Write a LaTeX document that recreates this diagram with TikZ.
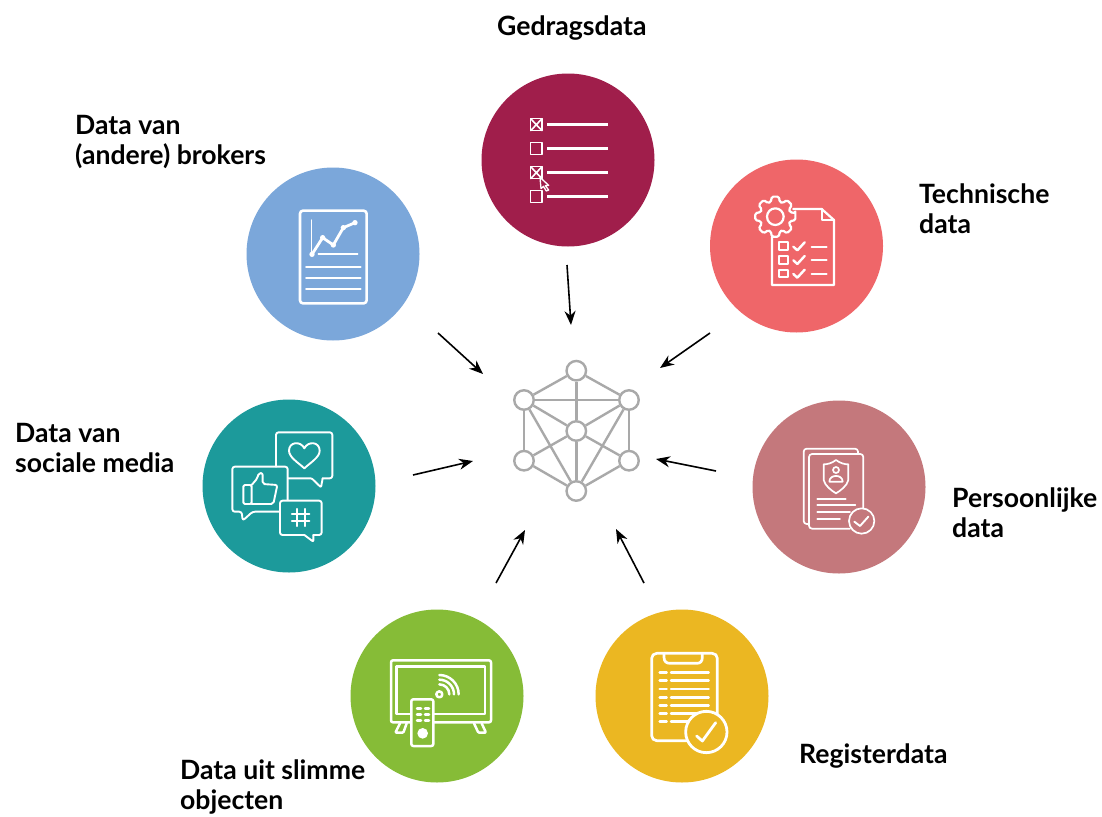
\documentclass[tikz,border=0pt]{standalone}
\usepackage{fontspec}
\setmainfont{Lato}
\definecolor{cgedrag}{HTML}{A01E4B}
\definecolor{ctech}{HTML}{EF6669}
\definecolor{cpers}{HTML}{C4787C}
\definecolor{creg}{HTML}{EBB722}
\definecolor{cslim}{HTML}{86BC37}
\definecolor{csoc}{HTML}{1C9A9B}
\definecolor{cbrok}{HTML}{7BA7DA}
\definecolor{chub}{HTML}{A9A9A9}
\usetikzlibrary{arrows.meta}
\tikzset{
  bigdisc/.style={circle,minimum size=173pt,inner sep=0pt,fill=#1},
  hubdot/.style={circle,minimum size=19.5pt,inner sep=0pt,draw=chub,line width=2.4pt,fill=white},
  hubline/.style={draw=chub,line width=2.4pt},
  flow/.style={-{Stealth[length=14pt,width=11pt]},line width=1.6pt,black},
  lab/.style={font=\fontsize{26.6}{30}\selectfont\bfseries,align=left,anchor=north west,inner sep=0pt,text=black},
  icon/.style={x=0.33333pt,y=-0.33333pt,white,line width=2.2pt,line join=round,line cap=round},
}
\begin{document}
\begin{tikzpicture}[x=1pt,y=-1pt]
\useasboundingbox (0,0) rectangle (1102,816);
\fill[white] (0,0) rectangle (1102,816);
% discs
\node[bigdisc=cgedrag] (gedrag) at (568,160) {};
\node[bigdisc=ctech] (tech) at (796.5,246) {};
\node[bigdisc=cpers] (pers) at (839,487) {};
\node[bigdisc=creg] (reg) at (682,696) {};
\node[bigdisc=cslim] (slim) at (437,696) {};
\node[bigdisc=csoc] (soc) at (289,486) {};
\node[bigdisc=cbrok] (brok) at (333,254) {};
% hub
\node[hubdot] (ht) at (576.3,370.7) {};
\node[hubdot] (hul) at (524,400) {};
\node[hubdot] (hur) at (629,400) {};
\node[hubdot] (hc) at (576.3,431) {};
\node[hubdot] (hll) at (524,460.7) {};
\node[hubdot] (hlr) at (629,460.7) {};
\node[hubdot] (hb) at (576.3,491) {};
\foreach \p/\q in {ht/hul,ht/hur,ht/hc,hul/hur,hul/hc,hur/hc,hul/hll,hur/hlr,hll/hc,hlr/hc,hll/hb,hlr/hb,hul/hb,hur/hb,hc/hb}
  \draw[hubline] (\p) -- (\q);
% arrows
\coordinate (a1s) at (567,265); \coordinate (a1e) at (571,325);
\coordinate (a2s) at (710,333); \coordinate (a2e) at (660,368);
\coordinate (a3s) at (716,471); \coordinate (a3e) at (656,459);
\coordinate (a4s) at (644,583); \coordinate (a4e) at (616,529);
\coordinate (a5s) at (496,583); \coordinate (a5e) at (525,530);
\coordinate (a6s) at (413,475); \coordinate (a6e) at (473,461);
\coordinate (a7s) at (438,333); \coordinate (a7e) at (483,374);
\foreach \i in {1,...,7} \draw[flow] (a\i s) -- (a\i e);
% labels
\node[lab] (l1) at (497,16) {Gedragsdata};
\node[lab] (l2) at (75,115) {Data van\\(andere) brokers};
\node[lab] (l3) at (919,184) {Technische\\data};
\node[lab] (l4) at (952,488) {Persoonlijke\\data};
\node[lab] (l5) at (799,744) {Registerdata};
\node[lab] (l6) at (180,760) {Data uit slimme\\objecten};
\node[lab] (l7) at (15,423) {Data van\\sociale media};
% icon Gedragsdata
\begin{scope}[shift={(480,70)},icon]
  \foreach \y in {146,218,290,362} \draw[line width=1.6pt,line cap=butt] (152,\y) rectangle (186,\y+36);
  \foreach \y in {146,290} \draw[line width=1.6pt] (152,\y) -- (186,\y+36) (186,\y) -- (152,\y+36);
  \foreach \y in {163,236,308,380} \draw[line width=3.5pt,line cap=butt] (202,\y) -- (384,\y);
  \draw[line width=1.3pt,fill=cgedrag] (180,322) -- (206,346) -- (196,347) -- (206,360) -- (199,363) -- (190,349) -- (183,356) -- cycle;
\end{scope}
% icon Technische
\begin{scope}[shift={(710,160)},icon]
  \draw (250,147) -- (335,147) -- (372,180) -- (372,375) -- (186,375) -- (186,230);
  \draw (335,147) -- (335,180) -- (372,180);
  \foreach \y in {247,288,329} {
    \draw (207,\y) rectangle (233,\y+23);
    \draw[line width=2.4pt] (250,\y+13) -- (262,\y+24) -- (284,\y);
    \draw[line width=2pt] (305,\y+13) -- (350,\y+13);
  }
  \draw[fill=ctech,rounded corners=1.5pt,shift={(196,170)}] (-10:61) \foreach \a in {0,45,...,315}{ -- (\a-10:61) -- (\a+10:61) -- (\a+17:46) -- (\a+28:46)} -- cycle;
  \draw (196,170) circle[radius=25];
\end{scope}
% icon Persoonlijke
\begin{scope}[shift={(750,400)},icon,line width=1.7pt]
  \draw[rounded corners=3pt] (177,372) -- (161,372) -- (161,146) -- (324,146) -- (324,162);
  \draw[rounded corners=3pt] (300,386) -- (177,386) -- (177,162) -- (340,162) -- (340,325);
  \draw (258,180) .. controls (245,190) and (232,193) .. (221,193) -- (221,240) .. controls (225,258) and (245,272) .. (258,280) .. controls (271,272) and (291,258) .. (295,240) -- (295,193) .. controls (284,193) and (271,190) .. (258,180) -- cycle;
  \draw (258,210) circle[radius=9];
  \draw (238,245) .. controls (238,222) and (278,222) .. (278,245) -- cycle;
  \draw (202,296) -- (287,296) (202,316) -- (316,316) (202,337) -- (300,337) (202,358) -- (270,358);
  \draw[fill=cpers] (335,363) circle[radius=38];
  \draw[line width=1.9pt] (313,365) -- (330,378) -- (355,350);
\end{scope}
% icon Registerdata
\begin{scope}[shift={(595,610)},icon,line width=2.5pt]
  \draw[rounded corners=5pt,line width=2.7pt] (170,130) rectangle (367,392);
  \draw[line width=2.7pt] (207,130) -- (207,142) .. controls (207,155) and (215,160) .. (225,160) -- (305,160) .. controls (315,160) and (322,155) .. (322,142) -- (322,130);
  \foreach \y in {188,212,237,262,286,311,335} \draw (194,\y) -- (215,\y) (228,\y) -- (341,\y);
  \draw[fill=creg,line width=2.8pt] (334,366) circle[radius=62];
  \draw[line width=2.8pt] (305,378) -- (322,393) -- (362,338);
\end{scope}
% icon slimme objecten
\begin{scope}[shift={(350,610)},icon,line width=2.5pt]
  \draw[rounded corners=2pt] (123,151) rectangle (423,337);
  \draw (140,170) rectangle (405,312);
  \draw[rounded corners=1pt] (150,340) -- (136,368) -- (160,368) -- (170,340);
  \draw[rounded corners=1pt] (372,340) -- (385,368) -- (408,368) -- (395,340);
  \draw[fill=cslim,rounded corners=2pt] (184,268) rectangle (250,408);
  \foreach \y in {295,313,331} \draw (201,\y) -- (213,\y) (225,\y) -- (237,\y);
  \fill (218,370) circle[radius=16];
  \draw (268,253) circle[radius=9];
  \draw (268,223) arc[start angle=-90,end angle=0,radius=30];
  \draw (268,209) arc[start angle=-90,end angle=0,radius=44];
  \draw (268,195) arc[start angle=-90,end angle=0,radius=58];
\end{scope}
% icon sociale media
\begin{scope}[shift={(200,400)},icon,line width=1.9pt]
  \draw[rounded corners=2.5pt] (228,200) -- (228,97) -- (397,97) -- (397,235) -- (368,235);
  \draw[rounded corners=1pt] (368,235) -- (363,262) -- (335,235) -- (265,235);
  \draw (313,205) .. controls (295,188) and (267,172) .. (267,152) .. controls (267,125) and (302,122) .. (313,145) .. controls (324,122) and (359,125) .. (359,152) .. controls (359,172) and (331,188) .. (313,205) -- cycle;
  \draw[rounded corners=2.5pt] (240,335) -- (158,335) -- (128,362) -- (125,335) -- (97,335) -- (97,200) -- (263,200) -- (263,300);
  \draw[rounded corners=1.5pt] (130,255) rectangle (155,312);
  \draw[rounded corners=2pt] (155,255) -- (172,235) -- (176,219) -- (188,219) -- (188,252) -- (232,255) -- (220,312) -- (155,312);
  \draw[rounded corners=2.5pt] (313,405) -- (240,405) -- (240,302) -- (365,302) -- (365,405) -- (340,405);
  \draw[rounded corners=1pt] (340,405) -- (340,425) -- (313,405);
  \draw[line width=2.2pt] (292,327) -- (292,378) (314,327) -- (314,378) (276,342) -- (328,342) (276,362) -- (328,362);
\end{scope}
% icon brokers
\begin{scope}[shift={(245,165)},icon,line width=2pt]
  \draw[rounded corners=3pt,line width=2.6pt] (165,137) rectangle (365,415);
  \draw[line width=1.4pt] (200,165) -- (200,265) (220,267) -- (338,267);
  \draw[line width=2.8pt] (201,268) -- (233,218) -- (265,240) -- (295,188) -- (330,173);
  \foreach \p in {(201,268),(233,218),(265,240),(295,188),(330,173)} \fill \p circle[radius=8];
  \foreach \y in {307,339,371} \draw (183,\y) -- (347,\y);
\end{scope}
\end{tikzpicture}
\end{document}
